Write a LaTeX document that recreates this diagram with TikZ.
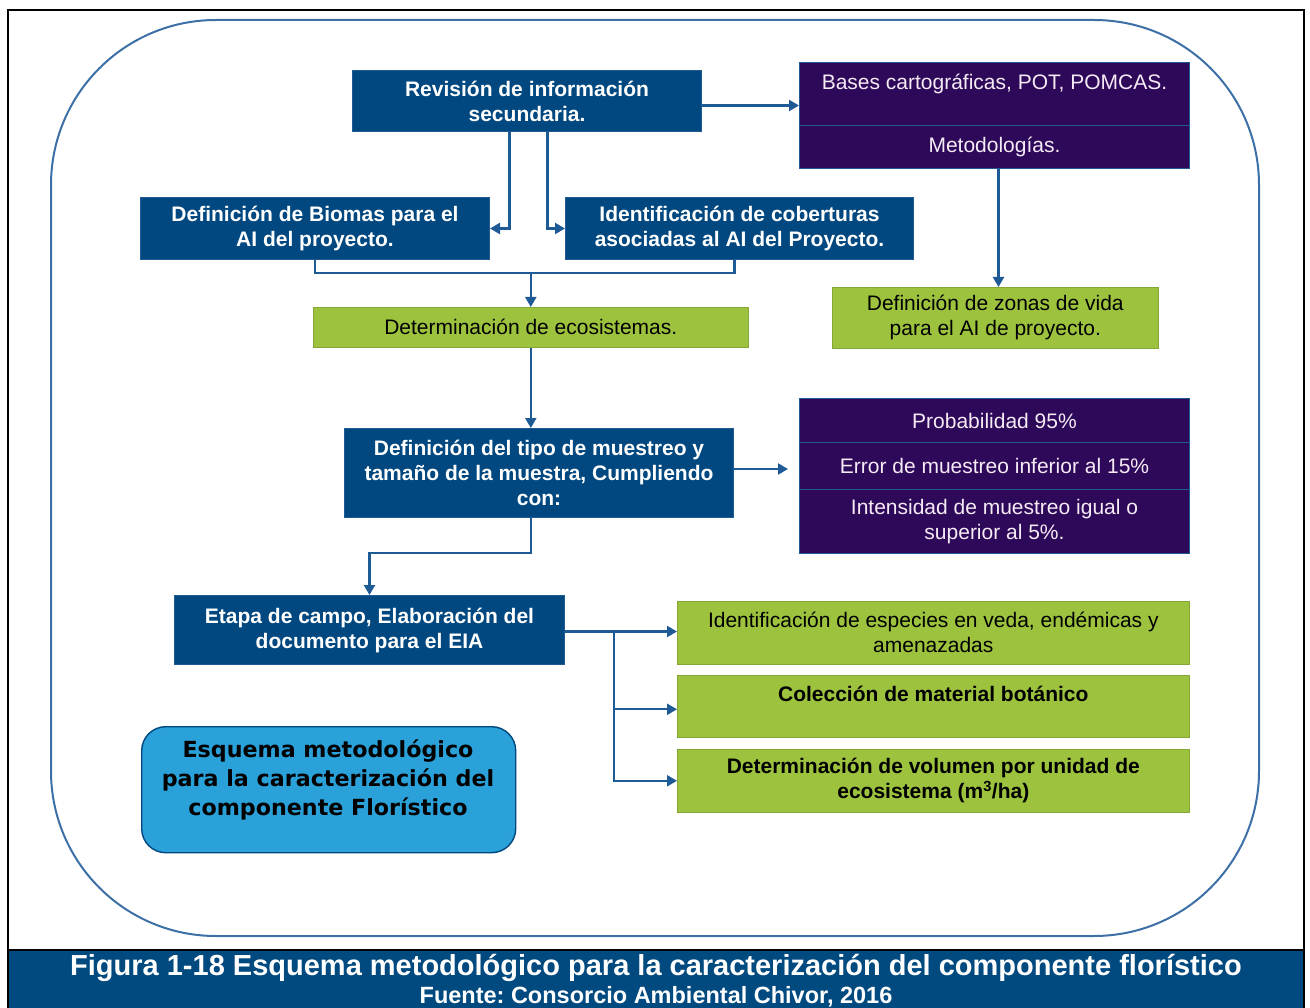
\documentclass[tikz,border=0pt]{standalone}
\usepackage{fontspec}
\setmainfont{Liberation Sans}
\newfontfamily\widefont{DejaVu Sans}
\usetikzlibrary{arrows.meta}
\frenchspacing

\definecolor{boxblue}{HTML}{00487F}
\definecolor{edgeblue}{HTML}{1F5A95}
\definecolor{boxpurple}{HTML}{2E0859}
\definecolor{boxgreen}{HTML}{9DC33E}
\definecolor{titleblue}{HTML}{2AA1D8}
\definecolor{linkblue}{HTML}{1D5A96}
\definecolor{framecol}{HTML}{3D70A6}
\definecolor{bandblue}{HTML}{004A7F}

\tikzset{
  base/.style={anchor=north west, inner sep=0pt, align=center,
    font=\fontsize{21}{25}\selectfont},
  bluebox/.style={base, fill=boxblue, draw=edgeblue, line width=1pt,
    text=white, font=\fontsize{21}{25}\selectfont\bfseries},
  purplebox/.style={base, fill=boxpurple, draw=edgeblue, line width=1pt,
    text=white!92!violet},
  greenbox/.style={base, fill=boxgreen, draw=boxgreen!85!black, line width=0.6pt,
    text=black},
  conn/.style={draw=linkblue, line width=2.2pt,
    -{Triangle[width=11pt,length=10pt]}},
  link/.style={draw=linkblue, line width=2.2pt},
}

\begin{document}
\begin{tikzpicture}[x=1pt,y=1pt]
\useasboundingbox (0,0) rectangle (1310,-1008);
\fill[white] (0,0) rectangle (1310,-1008);

% caption band and outer frame
\fill[bandblue] (8,-950) rectangle (1304,-1008);
\draw[black, line width=2.4pt] (8,-1008) -- (8,-10) -- (1304,-10) -- (1304,-1008);
\draw[black, line width=1.5pt] (8,-950) -- (1304,-950);

% rounded container
\draw[framecol, line width=2pt, rounded corners=165pt] (51,-20) rectangle (1259,-936);

% boxes
\node[bluebox, minimum width=349pt, minimum height=61pt] (rev) at (352,-70)
  {Revisión de información\\secundaria.};
\node[purplebox, minimum width=390pt, minimum height=63pt] (bases) at (799,-62)
  {Bases cartográficas, POT, POMCAS.\\\mbox{}};
\node[purplebox, minimum width=390pt, minimum height=43pt] (metod) at (799,-125)
  {Metodologías.};
\node[bluebox, minimum width=349pt, minimum height=62pt] (biomas) at (140,-197)
  {Definición de Biomas para el\\AI del proyecto.};
\node[bluebox, minimum width=348pt, minimum height=62pt] (cober) at (565,-197)
  {Identificación de coberturas\\asociadas al AI del Proyecto.};
\node[greenbox, minimum width=435pt, minimum height=40pt] (ecos) at (313,-307)
  {Determinación de ecosistemas.};
\node[greenbox, minimum width=326pt, minimum height=61pt] (zonas) at (832,-287)
  {Definición de zonas de vida\\para el AI de proyecto.};
\node[bluebox, minimum width=389pt, minimum height=89pt] (tipo) at (344,-428)
  {Definición del tipo de muestreo y\\tamaño de la muestra, Cumpliendo\\con:};
\node[purplebox, minimum width=390pt, minimum height=44pt] (prob) at (799,-398)
  {Probabilidad 95\%};
\node[purplebox, minimum width=390pt, minimum height=47pt] (error) at (799,-442)
  {Error de muestreo inferior al 15\%};
\node[purplebox, minimum width=390pt, minimum height=64pt] (inten) at (799,-489)
  {Intensidad de muestreo igual o\\superior al 5\%.};
\node[bluebox, minimum width=390pt, minimum height=69pt] (campo) at (174,-595)
  {Etapa de campo, Elaboración del\\documento para el EIA};
\node[greenbox, minimum width=512pt, minimum height=63pt] (veda) at (677,-601)
  {Identificación de especies en veda, endémicas y\\amenazadas};
\node[greenbox, minimum width=512pt, minimum height=62pt,
  font=\fontsize{21}{25}\selectfont\bfseries] (colec) at (677,-675)
  {Colección de material botánico\\\mbox{}};
\node[greenbox, minimum width=512pt, minimum height=63pt,
  font=\fontsize{21}{25}\selectfont\bfseries] (volum) at (677,-749)
  {Determinación de volumen por unidad de\\ecosistema (m\textsuperscript{3}/ha)};

% title card
\node[anchor=north west, minimum width=374pt, minimum height=126pt, inner sep=0pt,
  fill=titleblue, draw=boxblue, line width=1.4pt, rounded corners=24pt] (card) at (141,-726) {};
\node[align=center, inner sep=0pt, text=black,
  font=\widefont\bfseries\fontsize{22.2}{29}\selectfont] (cardtext) at (328,-780)
  {Esquema metodológico\\para la caracterización del\\componente Florístico};

% connectors
\draw[conn] ([yshift=-4.5pt]rev.east) -- ([yshift=-4.5pt]rev.east -| bases.west);
\draw[conn] ([xshift=-17.5pt]rev.south) |- (biomas.east);
\draw[conn] ([xshift=20.5pt]rev.south) |- (cober.west);
\draw[link] (biomas.south) -- ++(0,-13) -| ([xshift=-5pt]cober.south);
\draw[conn] ([yshift=-13pt]biomas.south -| ecos.north) -- (ecos.north);
\draw[conn] ([xshift=4pt]metod.south) -- ([xshift=4pt]metod.south |- zonas.north);
\draw[conn] (ecos.south) -- (ecos.south |- tipo.north);
\coordinate (probtip) at (788,-469);
\draw[conn] (tipo.east |- probtip) -- (probtip);
\draw[conn] (ecos.south |- tipo.south) -- ++(0,-35) -| (campo.north);
\draw[conn] ([yshift=-1.5pt]campo.east) -- ([yshift=-1.5pt]campo.east -| veda.west);
\coordinate (fork) at (614,-631);
\draw[conn] (fork) |- ([yshift=-3pt]colec.west);
\draw[conn] (fork) |- (volum.west);

% caption
\node[text=white, inner sep=0pt, font=\bfseries\fontsize{29}{32}\selectfont] (cap)
  at (656,-968) {Figura 1-18 Esquema metodológico para la caracterización del componente florístico};
\node[text=white, inner sep=0pt, font=\bfseries\fontsize{23.5}{26}\selectfont] (src)
  at (656,-997) {Fuente: Consorcio Ambiental Chivor, 2016};
\end{tikzpicture}
\end{document}
